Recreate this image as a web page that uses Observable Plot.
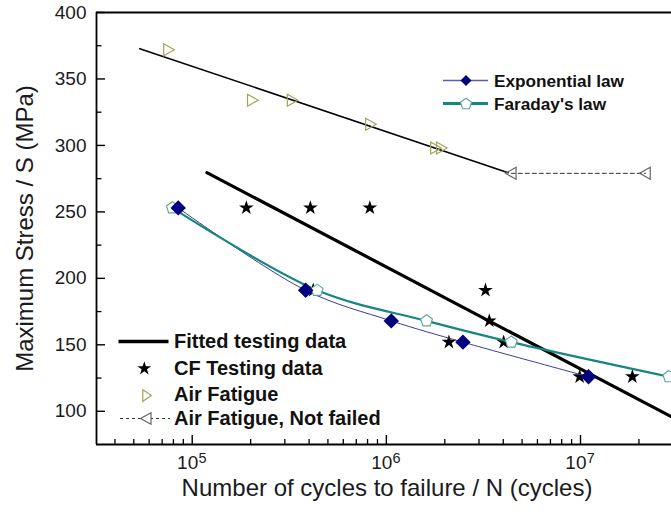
<!DOCTYPE html>
<html><head><meta charset="utf-8">
<script src="https://cdn.jsdelivr.net/npm/d3@7"></script>
<script src="https://cdn.jsdelivr.net/npm/@observablehq/plot@0.6"></script>
<style>
body{margin:0;background:#fff;}
#chart{position:relative;width:671px;height:515px;overflow:hidden;}
</style>
</head><body><div id="chart"></div>
<script>
// ---- data ----
const airN = [7.55e4, 2.04e5, 3.27e5, 8.28e5, 1.79e6, 1.92e6];
const airS = [372, 334, 334, 316, 298, 298];
const airFitN = [5.37e4, 4.24e6];
const airFitS = [372.8, 279.5];
const notFailedN = [4.4e6, 2.16e7];
const notFailedS = [279, 279];
const fitN = [1.19e5, 3.0e7];
const fitS = [279.5, 95.2];
const cfN = [1.90e5, 4.06e5, 8.22e5, 4.2e5, 3.24e6, 3.39e6, 2.10e6, 4.02e6, 9.9e6, 1.85e7];
const cfS = [253, 253, 253, 191, 191, 168, 152, 152, 126, 126];
const expN = [8.47e4, 3.84e5, 1.06e6, 2.48e6, 1.1e7];
const expS = [253, 191, 168, 152, 126];
const faraN = [7.9e4, 4.4e5, 1.61e6, 4.4e6, 2.85e7];
const faraS = [253, 191, 168, 152, 126];

const xMajorTicks = [1e5, 1e6, 1e7];
const xMajorExp = ["5", "6", "7"];
const xMinorTicks = [4e4,5e4,6e4,7e4,8e4,9e4, 2e5,3e5,4e5,5e5,6e5,7e5,8e5,9e5,
                     2e6,3e6,4e6,5e6,6e6,7e6,8e6,9e6, 2e7];
const yMajorTicks = [100, 150, 200, 250, 300, 350, 400];
const yMinorTicks = [125, 175, 225, 275, 325, 375];

const xTitle = "Number of cycles to failure / N (cycles)";
const yTitle = "Maximum Stress / S (MPa)";
const legendA = ["Exponential law", "Faraday's law"];
const legendB = ["Fitted testing data", "CF Testing data", "Air Fatigue", "Air Fatigue, Not failed"];

// ---- layout ----
const FONT = "'Liberation Sans', Arial, Helvetica, sans-serif";
const W = 671, H = 515, mL = 96, mR = 0, mT = 12, mB = 71;
const frameW = W - mL - mR, frameH = H - mT - mB;
const xDomain = [Math.pow(10, 4.507), Math.pow(10, 7.4687)];
const yDomain = [75, 400];

const rows = (N, S) => N.map((n, i) => ({n, s: S[i]}));

const triRight = {draw(c){ c.moveTo(-4.8,-6); c.lineTo(5.8,0); c.lineTo(-4.8,6); c.closePath(); }};
const triLeft  = {draw(c){ c.moveTo(4.8,-6); c.lineTo(-5.8,0); c.lineTo(4.8,6); c.closePath(); }};
const pentagon = {draw(c){
  const R = 6.2;
  for (let k = 0; k < 5; k++) {
    const a = (-90 + k * 72) * Math.PI / 180;
    const px = R * Math.cos(a), py = R * Math.sin(a);
    if (k === 0) c.moveTo(px, py); else c.lineTo(px, py);
  }
  c.closePath();
}};

const AX = "#000", TXT = "#1a1a22";

const plot = Plot.plot({
  width: W, height: H,
  marginLeft: mL, marginRight: mR, marginTop: mT, marginBottom: mB,
  style: {fontFamily: FONT, background: "#fff", overflow: "visible"},
  x: {type: "log", domain: xDomain, axis: null},
  y: {domain: yDomain, axis: null},
  marks: [
    // ticks (inward)
    Plot.ruleX(xMajorTicks, {x: d => d, insetTop: frameH - 9, stroke: AX, strokeWidth: 1.4}),
    Plot.ruleX(xMinorTicks, {x: d => d, insetTop: frameH - 5, stroke: AX, strokeWidth: 1.3}),
    Plot.ruleY(yMajorTicks, {y: d => d, insetRight: frameW - 9, stroke: AX, strokeWidth: 1.4}),
    Plot.ruleY(yMinorTicks, {y: d => d, insetRight: frameW - 5.5, stroke: AX, strokeWidth: 1.3}),
    // frame lines
    Plot.ruleX([xDomain[0]], {x: d => d, stroke: AX, strokeWidth: 1.8}),
    Plot.ruleY([yDomain[0]], {y: d => d, stroke: AX, strokeWidth: 1.8}),
    Plot.ruleY([yDomain[1]], {y: d => d, stroke: AX, strokeWidth: 1.8}),
    // tick labels
    Plot.text(yMajorTicks, {y: d => d, frameAnchor: "left", dx: -10, textAnchor: "end",
      text: d => String(d), fontSize: 19, fill: TXT}),
    Plot.text(xMajorTicks, {x: d => d, frameAnchor: "bottom", dx: 6, dy: 24.9, textAnchor: "end",
      text: d => "10", fontSize: 19, fill: TXT}),
    Plot.text(xMajorTicks, {x: d => d, frameAnchor: "bottom", dx: 6.2, dy: 18.5, textAnchor: "start",
      text: (d, i) => xMajorExp[i], fontSize: 14.5, fill: TXT}),
    // titles
    Plot.text([xTitle], {frameAnchor: "bottom", dx: 3, dy: 51.8, textAnchor: "middle", text: d => d, fontSize: 24, fill: TXT}),
    Plot.text([yTitle], {frameAnchor: "left", dx: -70.7, rotate: -90, textAnchor: "middle", text: d => d, fontSize: 24, fill: TXT}),
    // air fatigue fit + not failed
    Plot.line(rows(airFitN, airFitS), {x: "n", y: "s", stroke: "#000", strokeWidth: 1.6}),
    Plot.line(rows(notFailedN, notFailedS), {x: "n", y: "s", stroke: "#333", strokeWidth: 1, strokeDasharray: "4,3"}),
    // fitted testing data
    Plot.line(rows(fitN, fitS), {x: "n", y: "s", stroke: "#000", strokeWidth: 3.2, clip: true}),
    // CF testing data
    Plot.dot(rows(cfN, cfS), {x: "n", y: "s", symbol: "star", r: 4.6, fill: "#000", stroke: "none"}),
    // model lines
    Plot.line(rows(expN, expS), {x: "n", y: "s", curve: "catmull-rom", stroke: "#3b3b9e", strokeWidth: 1}),
    Plot.line(rows(faraN, faraS), {x: "n", y: "s", curve: "catmull-rom", stroke: "#16877f", strokeWidth: 2.2, clip: true}),
    Plot.dot(rows(faraN, faraS), {x: "n", y: "s", symbol: pentagon, fill: "#fff", stroke: "#5aa59d", strokeWidth: 1.1}),
    Plot.dot(rows(expN, expS), {x: "n", y: "s", symbol: "diamond2", r: 6, fill: "#000080", stroke: "#000080"}),
    // air fatigue points
    Plot.dot(rows(airN, airS), {x: "n", y: "s", symbol: triRight, fill: "none", stroke: "#a3a35a", strokeWidth: 1.2}),
    Plot.dot(rows(notFailedN, notFailedS), {x: "n", y: "s", symbol: triLeft, fill: "none", stroke: "#666", strokeWidth: 1.2})
  ]
});

document.getElementById("chart").appendChild(plot);

// ---- legends ----
const svg = d3.select(plot);
const g = svg.append("g").attr("font-family", FONT).attr("font-weight", "bold")
  .attr("fill", "#111").attr("text-anchor", "start");

// top-right legend
g.append("line").attr("x1", 443).attr("x2", 488).attr("y1", 80.5).attr("y2", 80.5)
  .attr("stroke", "#5a5ab8").attr("stroke-width", 1.3);
g.append("path").attr("d", "M466,75 L471.5,80.5 L466,86 L460.5,80.5 Z").attr("fill", "#000080");
g.append("text").attr("x", 494).attr("y", 86.9).attr("font-size", 17.2).attr("text-anchor", "start").text(legendA[0]);

g.append("line").attr("x1", 443).attr("x2", 488).attr("y1", 103.5).attr("y2", 103.5)
  .attr("stroke", "#16877f").attr("stroke-width", 3.2);
{
  const R = 5.8, pts = [];
  for (let k = 0; k < 5; k++) { const a = (-90 + k*72) * Math.PI/180; pts.push([466 + R*Math.cos(a), 104 + R*Math.sin(a)]); }
  g.append("path").attr("d", "M" + pts.map(p => p.join(",")).join("L") + "Z")
    .attr("fill", "#fff").attr("stroke", "#5aa59d").attr("stroke-width", 1.1);
}
g.append("text").attr("x", 494).attr("y", 110.2).attr("font-size", 17.2).attr("text-anchor", "start").text(legendA[1]);

// bottom-left legend
const rowsY = [341.5, 368, 394.5, 418.5];
g.append("line").attr("x1", 118.5).attr("x2", 168.5).attr("y1", rowsY[0]).attr("y2", rowsY[0])
  .attr("stroke", "#000").attr("stroke-width", 3.5);
g.append("path").attr("d", d3.symbol(d3.symbolStar, 60)()).attr("transform", `translate(144.3,${rowsY[1]+0.5})`).attr("fill", "#000");
g.append("path").attr("d", "M142.8,-5.8 L151.5,0 L142.8,5.8 Z").attr("transform", `translate(0,${rowsY[2]+1})`)
  .attr("fill", "none").attr("stroke", "#a3a35a").attr("stroke-width", 1.2);
g.append("line").attr("x1", 120).attr("x2", 170).attr("y1", rowsY[3]).attr("y2", rowsY[3])
  .attr("stroke", "#333").attr("stroke-width", 1).attr("stroke-dasharray", "3,3");
g.append("path").attr("d", "M151,-5.8 L140.5,0 L151,5.8 Z").attr("transform", `translate(0,${rowsY[3]})`)
  .attr("fill", "#fff").attr("stroke", "#666").attr("stroke-width", 1.2);
legendB.forEach((t, i) => {
  g.append("text").attr("x", 174).attr("y", rowsY[i] + 6.8).attr("font-size", 20)
    .attr("text-anchor", "start").text(t);
});
</script>
</body></html>
